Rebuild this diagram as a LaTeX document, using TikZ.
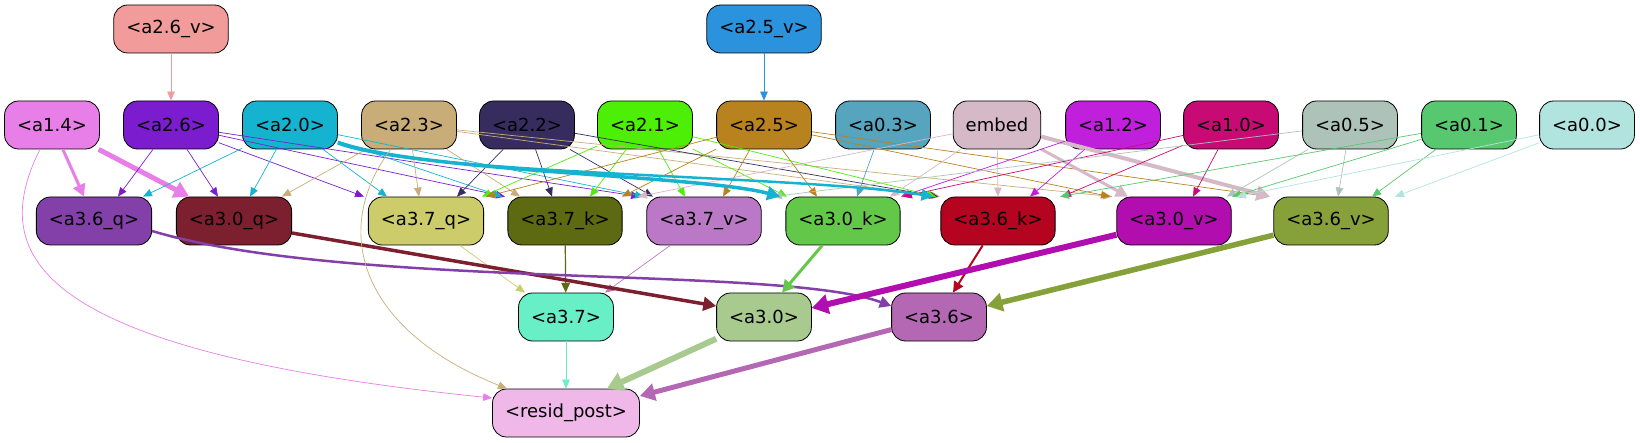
\documentclass[tikz,border=0pt]{standalone}
\usepackage{fontspec}
\setmainfont{DejaVu Sans}
\usetikzlibrary{arrows.meta}

\definecolor{c26v}{HTML}{F19C9A}
\definecolor{c25v}{HTML}{2B92DD}
\definecolor{c14}{HTML}{E87EE8}
\definecolor{c26}{HTML}{7B1DCF}
\definecolor{c20}{HTML}{15B3CF}
\definecolor{c23}{HTML}{C8AD78}
\definecolor{c22}{HTML}{362D5E}
\definecolor{c21}{HTML}{4EEF06}
\definecolor{c25}{HTML}{B8821E}
\definecolor{c03}{HTML}{57A4BE}
\definecolor{cemb}{HTML}{D5B9C7}
\definecolor{c12}{HTML}{C020DC}
\definecolor{c10}{HTML}{C80B74}
\definecolor{c05}{HTML}{ADC3B9}
\definecolor{c01}{HTML}{57C86F}
\definecolor{c00}{HTML}{B1E4DF}
\definecolor{c36q}{HTML}{8240A8}
\definecolor{c30q}{HTML}{7C1F2F}
\definecolor{c37q}{HTML}{CCCC6A}
\definecolor{c37k}{HTML}{5E6A12}
\definecolor{c37v}{HTML}{BA78C6}
\definecolor{c30k}{HTML}{63C84A}
\definecolor{c36k}{HTML}{B5041F}
\definecolor{c30v}{HTML}{B10DAF}
\definecolor{c36v}{HTML}{86A03A}
\definecolor{c37}{HTML}{68EFC5}
\definecolor{c30}{HTML}{A8CA8F}
\definecolor{c36}{HTML}{B468B4}
\definecolor{cres}{HTML}{EFB8E8}

\begin{document}
\begin{tikzpicture}[x=1pt, y=-1pt,
  box/.style={draw=black, line width=0.8pt, rounded corners=14pt, minimum height=48pt,
              inner xsep=12.5pt, inner ysep=0pt, font=\fontsize{18}{20}\selectfont, text=black},
  wire/.style={-{Triangle[length=8pt 1.4,width=6pt 2.2]}, line width=0.7pt}]
\useasboundingbox (0,0) rectangle (1640,443);

% inputs
\foreach \n/\x/\col/\lbl in {a26v/171/c26v/{<a2.6\_v>}, a25v/764/c25v/{<a2.5\_v>}}
  \node[box, fill=\col] (\n) at (\x,29) {\lbl};

\foreach \n/\x/\col/\lbl in {a14/52/c14/{<a1.4>}, a26/171/c26/{<a2.6>}, a20/290/c20/{<a2.0>},
    a23/409/c23/{<a2.3>}, a22/527/c22/{<a2.2>}, a21/645/c21/{<a2.1>}, a25/764/c25/{<a2.5>},
    a03/883/c03/{<a0.3>}, emb/997/cemb/{embed}, a12/1113/c12/{<a1.2>}, a10/1231/c10/{<a1.0>},
    a05/1350/c05/{<a0.5>}, a01/1469/c01/{<a0.1>}, a00/1587/c00/{<a0.0>}}
  \node[box, fill=\col] (\n) at (\x,125) {\lbl};

\foreach \n/\x/\col/\lbl in {a36q/94/c36q/{<a3.6\_q>}, a30q/234/c30q/{<a3.0\_q>},
    a37q/426/c37q/{<a3.7\_q>}, a37k/565/c37k/{<a3.7\_k>}, a37v/704/c37v/{<a3.7\_v>},
    a30k/843/c30k/{<a3.0\_k>}, a36k/998/c36k/{<a3.6\_k>}, a30v/1174/c30v/{<a3.0\_v>},
    a36v/1331/c36v/{<a3.6\_v>}}
  \node[box, fill=\col] (\n) at (\x,221) {\lbl};

\foreach \n/\x/\col/\lbl in {a37/566/c37/{<a3.7>}, a30/764/c30/{<a3.0>}, a36/939/c36/{<a3.6>}}
  \node[box, fill=\col] (\n) at (\x,317) {\lbl};

\node[box, fill=cres] (res) at (566,413) {<resid\_post>};

% edges into the first layer
\draw[wire, color=c26v] (a26v) -- (a26);
\draw[wire, color=c25v] (a25v) -- (a25);

% edges into the q/k/v row
\foreach \src/\dst/\dx/\col/\w in {
    a14/a36q/-10/c14/3, a14/a30q/-45/c14/5,
    a26/a36q/24/c26/0.7, a26/a30q/-16/c26/0.7, a26/a37q/-62/c26/0.7, a26/a37k/-60/c26/0.7, a26/a37v/-64/c26/0.7,
    a20/a36q/49/c20/0.7, a20/a30q/16/c20/0.7, a20/a37q/-39/c20/0.7, a20/a37k/-63/c20/0.7, a20/a37v/-60/c20/0.7,
    a23/a30q/48/c23/0.7, a23/a37q/-7/c23/0.7, a23/a37k/-45/c23/0.7, a23/a30v/-62/c23/0.7, a23/a36k/-58/c23/0.7,
    a22/a37q/31/c22/0.7, a22/a37k/-13/c22/0.7, a22/a37v/-51/c22/0.7, a22/a36k/-60/c22/0.7,
    a21/a37q/56/c21/0.7, a21/a37k/25/c21/0.7, a21/a37v/-19/c21/0.7, a21/a30k/-56/c21/0.7, a21/a36k/-62/c21/0.7,
    a25/a37q/60/c25/0.7, a25/a37k/57/c25/0.7, a25/a37v/19/c25/0.7, a25/a30k/-26/c25/0.7,
    a25/a30v/-64/c25/0.7, a25/a36v/-62/c25/0.7,
    a03/a30k/14/c03/0.7,
    emb/a37v/-66/cemb/0.7, emb/a30k/47/cemb/0.7, emb/a36k/0/cemb/0.7, emb/a30v/-46/cemb/3, emb/a36v/-61/cemb/4,
    a12/a30k/58/c12/0.7, a12/a36k/32/c12/0.7,
    a10/a30k/60/c10/0.7, a10/a36k/64/c10/0.7, a10/a30v/19/c10/0.7,
    a05/a30k/-70/c05/0.7, a05/a30v/53/c05/0.7, a05/a36v/7/c05/0.7,
    a01/a36k/62/c01/0.7, a01/a30v/58/c01/0.7, a01/a36v/41/c01/0.7,
    a00/a30v/63/c00/0.7, a00/a36v/64/c00/0.7}
  \draw[wire, color=\col, line width=\w pt] (\src) -- ([xshift=\dx]\dst.north);

\draw[wire, color=c20, line width=3.5pt] (a20) .. controls (420,172) and (700,175) .. ([xshift=-63]a30k.north);
\draw[wire, color=c20, line width=2.5pt] (a20) .. controls (420,175) and (800,175) .. ([xshift=-65]a36k.north);

% edges into the sums
\draw[wire, color=c37q] (a37q) -- ([xshift=-41]a37.north);
\draw[wire, color=c37k, line width=1.2pt] (a37k) -- (a37);
\draw[wire, color=c37v] (a37v) -- ([xshift=39]a37.north);
\draw[wire, color=c30q, line width=3.5pt] ([yshift=-12]a30q.east) -- ([yshift=11]a30.west);
\draw[wire, color=c36q, line width=2.5pt] ([yshift=-10]a36q.east) .. controls (350,290) and (780,265) .. ([yshift=11]a36.west);
\draw[wire, color=c30k, line width=3pt] (a30k) -- ([xshift=18]a30.north);
\draw[wire, color=c36k, line width=2pt] (a36k) -- ([xshift=14]a36.north);
\draw[wire, color=c30v, line width=6pt] (a30v) -- ([yshift=9]a30.east);
\draw[wire, color=c36v, line width=5.5pt] (a36v) -- ([yshift=11]a36.east);

% edges into the output
\draw[wire, color=c37] (a37) -- (res);
\draw[wire, color=c30, line width=6pt] (a30) -- ([xshift=41]res.north);
\draw[wire, color=c36, line width=5pt] (a36) -- ([yshift=17]res.east);
\draw[wire, color=c23] (a23) .. controls (330,230) and (360,330) .. ([xshift=-59]res.north);
\draw[wire, color=c14] (a14) .. controls (-10,250) and (20,350) .. ([yshift=15]res.west);
\end{tikzpicture}
\end{document}
